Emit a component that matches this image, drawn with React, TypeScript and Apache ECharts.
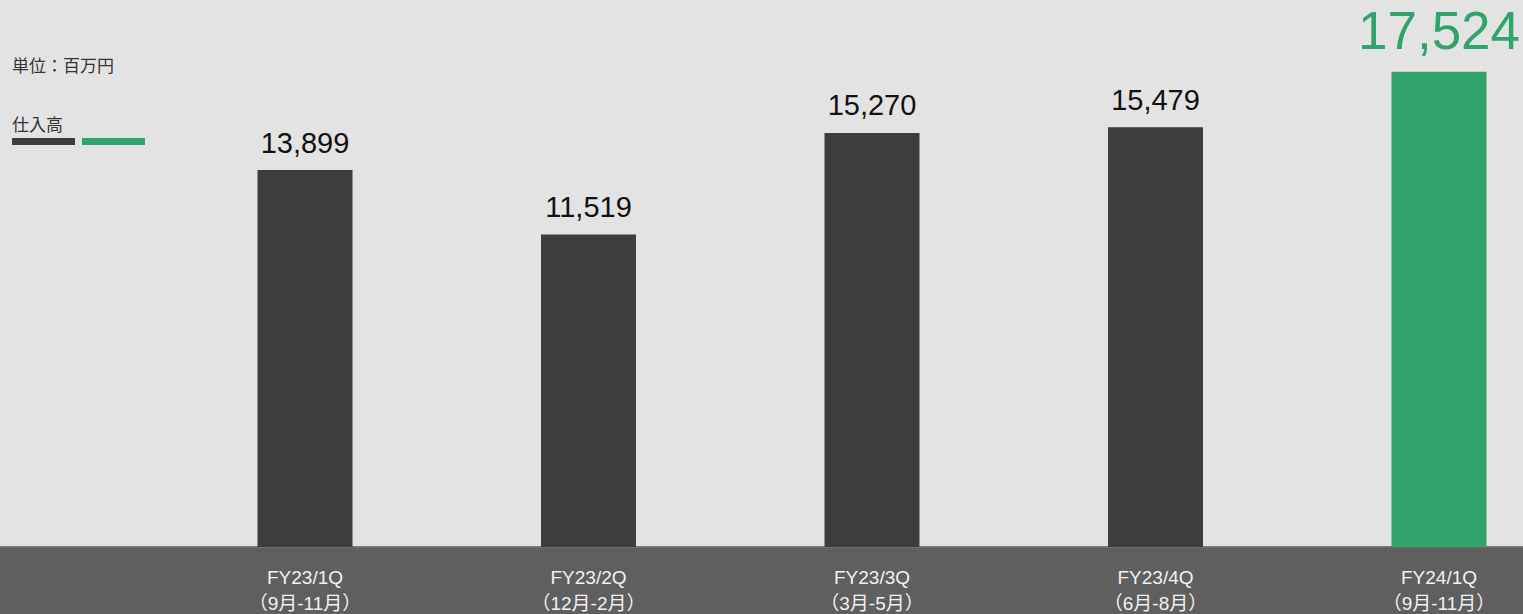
import React, { useEffect, useRef } from "react";
import * as echarts from "echarts";

const categories = ["FY23/1Q\n（9月-11月）", "FY23/2Q\n（12月-2月）", "FY23/3Q\n（3月-5月）", "FY23/4Q\n（6月-8月）", "FY24/1Q\n（9月-11月）"];
const values = [13899, 11519, 15270, 15479, 17524];
const highlightIndex = 4;
const unitLabel = "単位：百万円";
const legendLabel = "仕入高";

const DARK = "#3d3d3d";
const GREEN = "#31a46b";

export default function App() {
  const ref = useRef<HTMLDivElement>(null);
  useEffect(() => {
    if (!ref.current) return;
    const chart = echarts.init(ref.current, null, { renderer: "svg" });
    const font = "'Liberation Sans', Arial, 'Noto Sans CJK JP', sans-serif";
    const data = values.map((v, i) => {
      const hi = i === highlightIndex;
      return {
        value: v,
        itemStyle: { color: hi ? GREEN : DARK },
        label: {
          show: true,
          position: "top",
          distance: hi ? 15 : 13,
          color: hi ? GREEN : "#111",
          fontSize: hi ? 53 : 29,
          fontFamily: font,
          formatter: (p: any) => p.value.toLocaleString("en-US"),
        },
      };
    });
    chart.setOption({
      animation: false,
      backgroundColor: "#e3e3e3",
      grid: { left: 163.25, right: -57.75, top: 4.6, bottom: 67, containLabel: false, outerBoundsMode: "none" },
      xAxis: {
        type: "category",
        data: categories,
        axisLine: { show: false },
        axisTick: { show: false },
        axisLabel: {
          color: "#f2f2f2",
          fontSize: 19,
          lineHeight: 26,
          margin: 17,
          fontFamily: font,
          hideOverlap: false,
        },
      },
      yAxis: { type: "value", min: 0, max: 20000, show: false, splitLine: { show: false } },
      graphic: [
        { type: "rect", z: 0, shape: { x: 0, y: 546, width: 1523, height: 68 }, style: { fill: "#5f5f5f" } },
        { type: "rect", z: 0, shape: { x: 0, y: 546, width: 1523, height: 1.5 }, style: { fill: "#7c7c7c" } },
        { type: "text", x: 12, y: 58, style: { text: unitLabel, fontSize: 17, fill: "#333", fontFamily: font } },
        { type: "text", x: 12, y: 117, style: { text: legendLabel, fontSize: 17, fill: "#333", fontFamily: font } },
        { type: "rect", shape: { x: 12, y: 138, width: 63, height: 7 }, style: { fill: DARK } },
        { type: "rect", shape: { x: 82, y: 138, width: 63, height: 7 }, style: { fill: GREEN } },
      ],
      series: [
        {
          type: "bar",
          data,
          barWidth: 95,
          z: 5,
        },
      ],
    });
    return () => chart.dispose();
  }, []);
  return <div ref={ref} style={{ position: "fixed", left: 0, top: 0, width: 1523, height: 614 }} />;
}
